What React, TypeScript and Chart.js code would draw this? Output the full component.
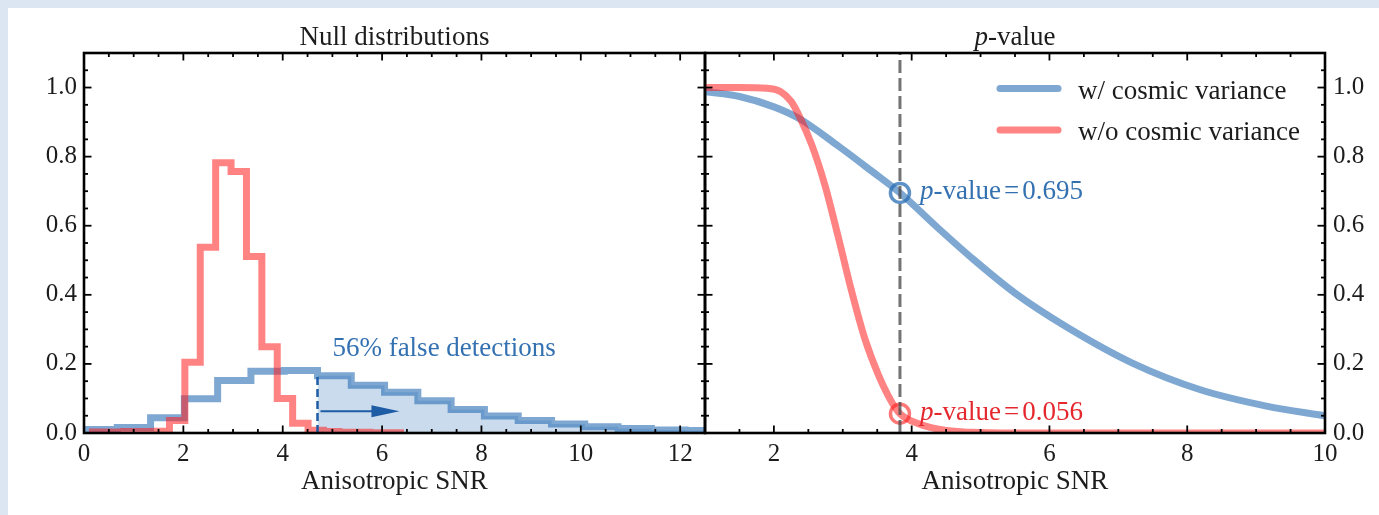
import React, { useEffect, useRef } from "react";
import { Chart, registerables } from "chart.js";

Chart.register(...registerables);

// ---------------- Data ----------------
// Left panel: null distributions (step histograms)
const blueBinEdges = [0, 0.67, 1.34, 2.02, 2.69, 3.36, 4.03, 4.7, 5.38, 6.05, 6.72, 7.39, 8.06, 8.74, 9.41, 10.08, 10.75, 11.42, 12.1, 12.77];
const blueDensity = [0.01, 0.016, 0.044, 0.099, 0.152, 0.179, 0.181, 0.166, 0.138, 0.118, 0.093, 0.068, 0.049, 0.036, 0.026, 0.018, 0.013, 0.009, 0.007];

const redBinEdges = [0.17, 0.48, 0.79, 1.1, 1.41, 1.72, 2.03, 2.34, 2.65, 2.96, 3.27, 3.58, 3.89, 4.2, 4.51, 4.82, 5.13, 5.44, 5.75, 6.06, 6.37];
const redDensity = [0.003, 0.003, 0.004, 0.004, 0.005, 0.036, 0.205, 0.538, 0.782, 0.757, 0.511, 0.25, 0.1, 0.028, 0.008, 0.004, 0.002, 0.002, 0.001, 0.001];

const detectionThreshold = 4.7;
const falseDetectionPercent = 56;
const arrowFrom = 4.76;
const arrowTo = 6.35;
const arrowLevel = 0.063;
const falseLabelX = 5.0;
const falseLabelY = 0.224;

// Right panel: p-value curves
const pWithSNR = [1.0, 1.5, 2.0, 2.36, 2.94, 3.42, 3.83, 4.39, 4.87, 5.5, 6.25, 7.22, 8.18, 9.15, 10.0];
const pWith = [0.988, 0.974, 0.944, 0.911, 0.83, 0.758, 0.695, 0.592, 0.507, 0.405, 0.307, 0.201, 0.126, 0.078, 0.05];

const pWithoutSNR = [1.0, 1.5, 1.9, 2.1, 2.25, 2.36, 2.55, 2.74, 2.94, 3.13, 3.32, 3.52, 3.71, 3.83, 4.1, 4.48, 4.87, 5.5, 6.5, 8.0, 10.0];
const pWithout = [1.0, 1.0, 0.998, 0.988, 0.96, 0.921, 0.834, 0.718, 0.563, 0.409, 0.273, 0.167, 0.09, 0.056, 0.027, 0.008, 0.002, 0.0, 0.0, 0.0, 0.0];

const observedSNR = 3.83;
const pValueWithCV = 0.695;
const pValueWithoutCV = 0.056;

const seriesLabels = ["w/ cosmic variance", "w/o cosmic variance"];

// Tick labels
const leftXTicks = [0, 2, 4, 6, 8, 10, 12];
const rightXTicks = [2, 4, 6, 8, 10];
const yTicks = [0, 0.2, 0.4, 0.6, 0.8, 1.0];

// ---------------- Styles ----------------
const FONT = "'Liberation Serif', 'Times New Roman', Times, serif";
const TEXT = "#1c1c1c";
const BLUE = "rgba(40,110,180,0.6)";
const BLUE_FILL = "rgba(40,110,180,0.25)";
const BLUE_DARK = "#1f5ca6";
const BLUE_TEXT = "#3471b1";
const RED = "rgba(255,30,30,0.55)";
const RED_TEXT = "#e5282e";
const MARK_BLUE = "rgba(40,110,180,0.75)";
const MARK_RED = "rgba(255,30,30,0.6)";

Chart.defaults.font.family = FONT;

function stepPoints(edges: number[], vals: number[]) {
  const pts: { x: number; y: number }[] = [{ x: edges[0], y: 0 }];
  vals.forEach((v, i) => pts.push({ x: edges[i], y: v }));
  pts.push({ x: edges[edges.length - 1], y: 0 });
  return pts;
}

function zip(xs: number[], ys: number[]) {
  return xs.map((x, i) => ({ x, y: ys[i] }));
}

type Part = { text: string; italic?: boolean; gapBefore?: number };

function drawRich(ctx: CanvasRenderingContext2D, parts: Part[], x: number, y: number, size: number, color: string, align: "left" | "center") {
  ctx.save();
  ctx.fillStyle = color;
  ctx.textBaseline = "alphabetic";
  ctx.textAlign = "left";
  const fontOf = (p: Part) => `${p.italic ? "italic " : ""}${size}px ${FONT}`;
  let total = 0;
  parts.forEach((p) => {
    ctx.font = fontOf(p);
    total += (p.gapBefore || 0) + ctx.measureText(p.text).width;
  });
  let cx = align === "center" ? x - total / 2 : x;
  parts.forEach((p) => {
    ctx.font = fontOf(p);
    cx += p.gapBefore || 0;
    ctx.fillText(p.text, cx, y);
    cx += ctx.measureText(p.text).width;
  });
  ctx.restore();
}

function makeFramePlugin(xMinor: number, yMinor: number) {
  return {
    id: "frame",
    afterDraw(chart: any) {
      const { ctx, chartArea: a } = chart;
      const xs = chart.scales.x;
      const ys = chart.scales.y;
      ctx.save();
      ctx.strokeStyle = "#000";
      ctx.lineWidth = 1.8;
      const seg = (x1: number, y1: number, x2: number, y2: number) => {
        ctx.beginPath();
        ctx.moveTo(x1, y1);
        ctx.lineTo(x2, y2);
        ctx.stroke();
      };
      const majorX = xs.ticks.map((t: any) => t.value);
      const majorY = ys.ticks.map((t: any) => t.value);
      const isMajor = (v: number, arr: number[]) => arr.some((m) => Math.abs(m - v) < 1e-6);
      const i0 = Math.ceil(xs.min / xMinor - 1e-9);
      const i1 = Math.floor(xs.max / xMinor + 1e-9);
      for (let i = i0; i <= i1; i++) {
        const v = i * xMinor;
        const len = isMajor(v, majorX) ? 7.5 : 4;
        const px = xs.getPixelForValue(v);
        seg(px, a.bottom, px, a.bottom - len);
        seg(px, a.top, px, a.top + len);
      }
      const j0 = Math.ceil(ys.min / yMinor - 1e-9);
      const j1 = Math.floor(ys.max / yMinor + 1e-9);
      for (let j = j0; j <= j1; j++) {
        const v = j * yMinor;
        const len = isMajor(v, majorY) ? 7.5 : 4;
        const py = ys.getPixelForValue(v);
        seg(a.left, py, a.left + len, py);
        seg(a.right, py, a.right - len, py);
      }
      ctx.lineWidth = 2.6;
      ctx.strokeRect(a.left, a.top, a.right - a.left, a.bottom - a.top);
      ctx.restore();
    },
  };
}

function makeTitlePlugin(parts: Part[]) {
  return {
    id: "panelTitle",
    afterDraw(chart: any) {
      const a = chart.chartArea;
      drawRich(chart.ctx, parts, (a.left + a.right) / 2, a.top - 8, 27, TEXT, "center");
    },
  };
}

const leftAnnotations = {
  id: "leftAnnotations",
  afterDatasetsDraw(chart: any) {
    const { ctx } = chart;
    const xs = chart.scales.x;
    const ys = chart.scales.y;
    const k = blueBinEdges.indexOf(detectionThreshold);
    const px = xs.getPixelForValue(detectionThreshold);
    ctx.save();
    ctx.strokeStyle = BLUE_DARK;
    ctx.lineWidth = 2.5;
    ctx.setLineDash([8, 4]);
    ctx.beginPath();
    ctx.moveTo(px, ys.getPixelForValue(0));
    ctx.lineTo(px, ys.getPixelForValue(blueDensity[k]));
    ctx.stroke();
    ctx.setLineDash([]);
    const x1 = xs.getPixelForValue(arrowFrom);
    const x2 = xs.getPixelForValue(arrowTo);
    const ay = ys.getPixelForValue(arrowLevel);
    ctx.lineWidth = 2;
    ctx.beginPath();
    ctx.moveTo(x1, ay);
    ctx.lineTo(x2 - 20, ay);
    ctx.stroke();
    ctx.fillStyle = BLUE_DARK;
    ctx.beginPath();
    ctx.moveTo(x2, ay);
    ctx.lineTo(x2 - 28, ay - 6);
    ctx.lineTo(x2 - 28, ay + 6);
    ctx.closePath();
    ctx.fill();
    ctx.font = `27px ${FONT}`;
    ctx.fillStyle = BLUE_TEXT;
    ctx.textBaseline = "alphabetic";
    ctx.textAlign = "left";
    ctx.fillText(`${falseDetectionPercent}% false detections`, xs.getPixelForValue(falseLabelX), ys.getPixelForValue(falseLabelY));
    ctx.restore();
  },
};

const rightAnnotations = {
  id: "rightAnnotations",
  afterDatasetsDraw(chart: any) {
    const { ctx, chartArea: a } = chart;
    const xs = chart.scales.x;
    const ys = chart.scales.y;
    const px = xs.getPixelForValue(observedSNR);
    ctx.save();
    ctx.strokeStyle = "rgba(70,70,70,0.75)";
    ctx.lineWidth = 3;
    ctx.setLineDash([13, 5]);
    ctx.beginPath();
    ctx.moveTo(px, a.bottom);
    ctx.lineTo(px, a.top);
    ctx.stroke();
    ctx.setLineDash([]);
    ctx.restore();

    const label = (p: number, color: string) => {
      const py = ys.getPixelForValue(p);
      drawRich(
        ctx,
        [
          { text: "p", italic: true },
          { text: "-value" },
          { text: "=", gapBefore: 3 },
          { text: p.toFixed(3), gapBefore: 3 },
        ],
        px + 20,
        py + 6,
        27,
        color,
        "left"
      );
    };
    label(pValueWithCV, BLUE_TEXT);
    label(pValueWithoutCV, RED_TEXT);

    // legend
    const entries = [
      { color: BLUE, text: seriesLabels[0] },
      { color: RED, text: seriesLabels[1] },
    ];
    ctx.save();
    entries.forEach((e, i) => {
      const ly = a.top + 35.5 + i * 41.5;
      ctx.strokeStyle = e.color;
      ctx.lineWidth = 7;
      ctx.lineCap = "round";
      ctx.beginPath();
      ctx.moveTo(a.right - 325, ly);
      ctx.lineTo(a.right - 267, ly);
      ctx.stroke();
      ctx.fillStyle = TEXT;
      ctx.font = `27px ${FONT}`;
      ctx.textAlign = "left";
      ctx.textBaseline = "alphabetic";
      ctx.fillText(e.text, a.right - 247, ly + 10);
    });
    ctx.restore();
  },
};

function tickFont(size: number) {
  return { family: FONT, size };
}

function xScale(min: number, max: number, ticks: number[]) {
  return {
    type: "linear" as const,
    min,
    max,
    grid: { display: false, drawTicks: false },
    border: { display: false },
    afterBuildTicks: (s: any) => {
      s.ticks = ticks.map((v) => ({ value: v }));
    },
    ticks: {
      font: tickFont(25),
      color: TEXT,
      padding: 6,
      maxRotation: 0,
      autoSkip: false,
      callback: (v: any) => String(v),
    },
    title: {
      display: true,
      text: "Anisotropic SNR",
      font: tickFont(27),
      color: TEXT,
      padding: { top: 0, bottom: 16.5 },
    },
    afterFit: (s: any) => {
      s.height = 82;
    },
  };
}

function yScale(position: "left" | "right", width: number, pad: number) {
  return {
    type: "linear" as const,
    position,
    min: 0,
    max: 1.1,
    grid: { display: false, drawTicks: false },
    border: { display: false },
    afterBuildTicks: (s: any) => {
      s.ticks = yTicks.map((v) => ({ value: v }));
    },
    ticks: {
      font: tickFont(25),
      color: TEXT,
      padding: pad,
      autoSkip: false,
      callback: (v: any) => Number(v).toFixed(1),
    },
    afterFit: (s: any) => {
      s.width = width;
    },
  };
}

export default function App() {
  const leftRef = useRef<HTMLCanvasElement>(null);
  const rightRef = useRef<HTMLCanvasElement>(null);

  useEffect(() => {
    const left = new Chart(leftRef.current as HTMLCanvasElement, {
      type: "line",
      data: {
        datasets: [
          {
            label: seriesLabels[1],
            data: stepPoints(redBinEdges, redDensity),
            stepped: "before",
            borderColor: RED,
            borderWidth: 7,
            borderJoinStyle: "miter",
            pointRadius: 0,
            fill: false,
            clip: 0,
          },
          {
            label: seriesLabels[0],
            data: stepPoints(blueBinEdges, blueDensity),
            stepped: "before",
            borderColor: BLUE,
            borderWidth: 7,
            borderJoinStyle: "miter",
            pointRadius: 0,
            fill: false,
            clip: 0,
          },
          {
            label: "false detections",
            data: stepPoints(
              blueBinEdges.slice(blueBinEdges.indexOf(detectionThreshold)),
              blueDensity.slice(blueBinEdges.indexOf(detectionThreshold))
            ),
            stepped: "before",
            borderColor: "rgba(0,0,0,0)",
            borderWidth: 0,
            backgroundColor: BLUE_FILL,
            pointRadius: 0,
            fill: "origin",
            clip: 0,
          },
        ],
      } as any,
      options: {
        animation: false,
        responsive: false,
        devicePixelRatio: 1,
        events: [],
        layout: { padding: { top: 45, right: 15, left: 0, bottom: 0 } },
        plugins: { legend: { display: false }, tooltip: { enabled: false }, title: { display: false } },
        scales: {
          x: xScale(0, 12.5, leftXTicks),
          y: yScale("left", 76, 7),
        },
      } as any,
      plugins: [makeFramePlugin(0.5, 0.05), makeTitlePlugin([{ text: "Null distributions" }]), leftAnnotations],
    });

    const right = new Chart(rightRef.current as HTMLCanvasElement, {
      type: "line",
      data: {
        datasets: [
          {
            label: "obs-with",
            data: [{ x: observedSNR, y: pValueWithCV }],
            showLine: false,
            pointRadius: 9.5,
            pointBorderWidth: 3.5,
            pointBorderColor: MARK_BLUE,
            pointBackgroundColor: "rgba(0,0,0,0)",
            clip: false,
          },
          {
            label: "obs-without",
            data: [{ x: observedSNR, y: pValueWithoutCV }],
            showLine: false,
            pointRadius: 9.5,
            pointBorderWidth: 3.5,
            pointBorderColor: MARK_RED,
            pointBackgroundColor: "rgba(0,0,0,0)",
            clip: false,
          },
          {
            label: seriesLabels[1],
            data: zip(pWithoutSNR, pWithout),
            borderColor: RED,
            borderWidth: 7,
            borderCapStyle: "round",
            cubicInterpolationMode: "monotone",
            pointRadius: 0,
            fill: false,
            clip: 0,
          },
          {
            label: seriesLabels[0],
            data: zip(pWithSNR, pWith),
            borderColor: BLUE,
            borderWidth: 7,
            borderCapStyle: "round",
            cubicInterpolationMode: "monotone",
            pointRadius: 0,
            fill: false,
            clip: 0,
          },
        ],
      } as any,
      options: {
        animation: false,
        responsive: false,
        devicePixelRatio: 1,
        events: [],
        layout: { padding: { top: 45, right: 0, left: 15, bottom: 0 } },
        plugins: { legend: { display: false }, tooltip: { enabled: false }, title: { display: false } },
        scales: {
          x: xScale(1, 10, rightXTicks),
          y: yScale("right", 54, 8),
        },
      } as any,
      plugins: [
        makeFramePlugin(0.5, 0.05),
        makeTitlePlugin([{ text: "p", italic: true }, { text: "-value" }]),
        rightAnnotations,
      ],
    });

    return () => {
      left.destroy();
      right.destroy();
    };
  }, []);

  return (
    <div style={{ position: "fixed", inset: 0, background: "#dce6f2", overflow: "hidden" }}>
      <div style={{ position: "absolute", left: 8, top: 8, right: 0, bottom: 0, background: "#ffffff" }}>
        <canvas
          ref={leftRef}
          width={712}
          height={507}
          style={{ position: "absolute", left: 0, top: 0, width: 712, height: 507 }}
        />
        <canvas
          ref={rightRef}
          width={689}
          height={507}
          style={{ position: "absolute", left: 682, top: 0, width: 689, height: 507 }}
        />
      </div>
    </div>
  );
}
